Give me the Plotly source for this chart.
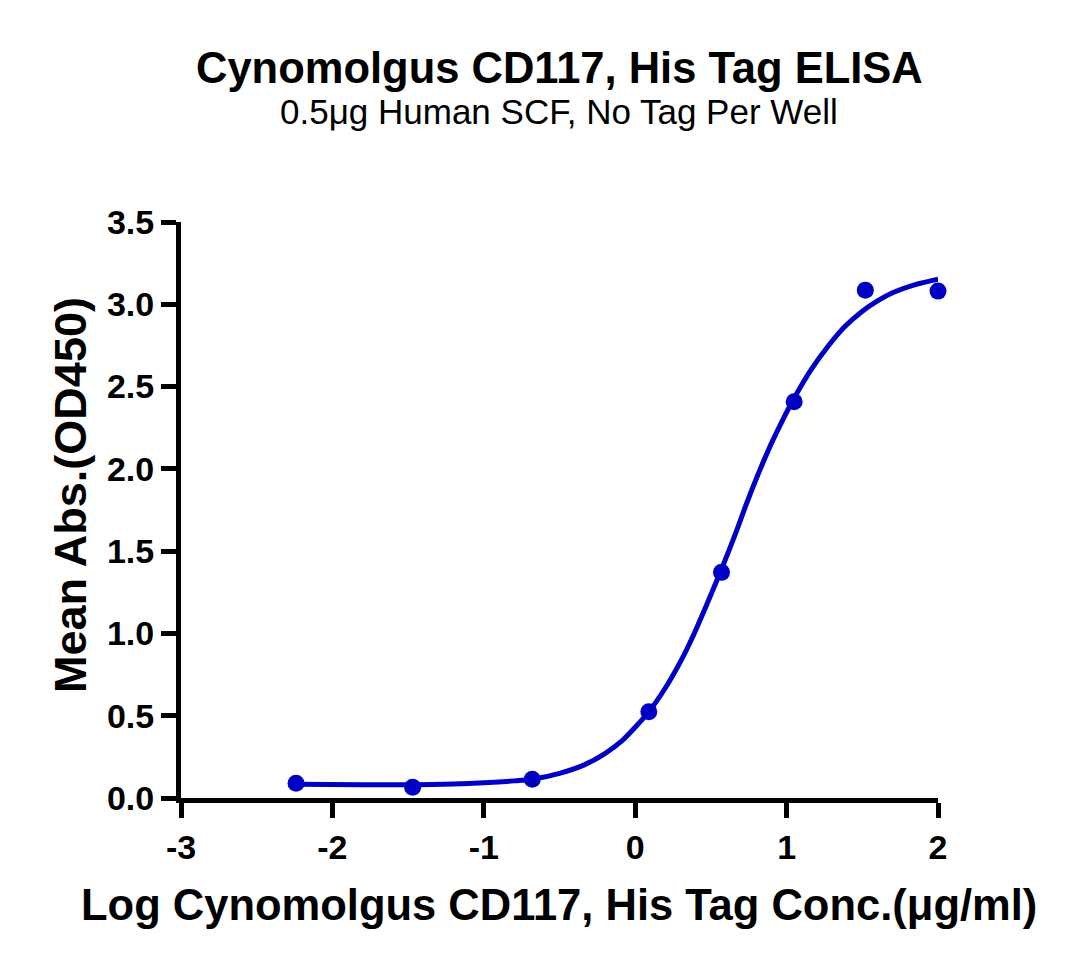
import plotly.graph_objects as go

# Measured points (log concentration, mean OD450)
log_conc = [-2.24, -1.47, -0.68, 0.09, 0.57, 1.05, 1.52, 2.0]
mean_abs = [0.089, 0.065, 0.114, 0.524, 1.371, 2.408, 3.086, 3.080]

# Fitted curve
curve_x = [-2.24, -1.8, -1.47, -1.2, -1.0, -0.8, -0.68, -0.5, -0.34, -0.2, -0.09,
           0.0, 0.09, 0.2, 0.3, 0.38, 0.47, 0.57, 0.66, 0.74, 0.87, 0.96, 1.05,
           1.16, 1.27, 1.38, 1.49, 1.6, 1.7, 1.85, 2.0]
curve_y = [0.083, 0.080, 0.081, 0.085, 0.092, 0.104, 0.114, 0.150, 0.200, 0.270, 0.345,
           0.43, 0.524, 0.67, 0.83, 0.98, 1.17, 1.39, 1.60, 1.80, 2.094, 2.27, 2.43,
           2.60, 2.74, 2.86, 2.95, 3.02, 3.07, 3.12, 3.153]

x_ticks = [-3, -2, -1, 0, 1, 2]
y_ticks = [0.0, 0.5, 1.0, 1.5, 2.0, 2.5, 3.0, 3.5]
y_tick_text = ["0.0", "0.5", "1.0", "1.5", "2.0", "2.5", "3.0", "3.5"]

title_text = "Cynomolgus CD117, His Tag ELISA"
subtitle_text = "0.5μg Human SCF, No Tag Per Well"
x_title = "Log Cynomolgus CD117, His Tag Conc.(μg/ml)"
y_title = "Mean Abs.(OD450)"

blue = "#0000C4"
font = "Liberation Sans, Arial, sans-serif"

L, R, T, B = 181, 142, 222, 168
W, H = 1080, 966
pw, ph = W - L - R, H - T - B


def px_x(p):
    return (p - L) / pw


def px_y(p):
    return (H - B - p) / ph


fig = go.Figure()
fig.add_trace(go.Scatter(x=curve_x, y=curve_y, mode="lines",
                         line=dict(color=blue, width=5, shape="spline", smoothing=0.6),
                         cliponaxis=False, showlegend=False, hoverinfo="skip"))
fig.add_trace(go.Scatter(x=log_conc, y=mean_abs, mode="markers",
                         marker=dict(color=blue, size=17),
                         cliponaxis=False, showlegend=False))

axis_common = dict(showgrid=False, zeroline=False, showline=True, linecolor="black",
                   linewidth=5, ticks="outside", ticklen=15, tickwidth=5, tickcolor="black",
                   tickfont=dict(size=34, family=font, color="black", weight="bold"))

fig.update_layout(
    width=W, height=H,
    margin=dict(l=L, r=R, t=T, b=B),
    paper_bgcolor="white", plot_bgcolor="white",
    font=dict(family=font, color="black"),
    xaxis=dict(range=[-3, 2], tickvals=x_ticks, ticktext=[str(t) for t in x_ticks],
               **axis_common),
    yaxis=dict(range=[0, 3.5], tickvals=y_ticks, ticktext=y_tick_text,
               **axis_common),
    annotations=[
        dict(text="<b>" + title_text + "</b>", x=px_x(559), y=px_y(68),
             xref="paper", yref="paper", xanchor="center", yanchor="middle",
             showarrow=False, font=dict(size=43.5, family=font)),
        dict(text=subtitle_text, x=px_x(559), y=px_y(112),
             xref="paper", yref="paper", xanchor="center", yanchor="middle",
             showarrow=False, font=dict(size=35, family=font)),
        dict(text="<b>" + x_title + "</b>", x=px_x(559), y=px_y(905),
             xref="paper", yref="paper", xanchor="center", yanchor="middle",
             showarrow=False, font=dict(size=43.5, family=font)),
        dict(text="<b>" + y_title + "</b>", x=px_x(70), y=px_y(495),
             xref="paper", yref="paper", xanchor="center", yanchor="middle",
             textangle=-90, showarrow=False, font=dict(size=45, family=font)),
    ],
)

fig.write_html("out.html")
